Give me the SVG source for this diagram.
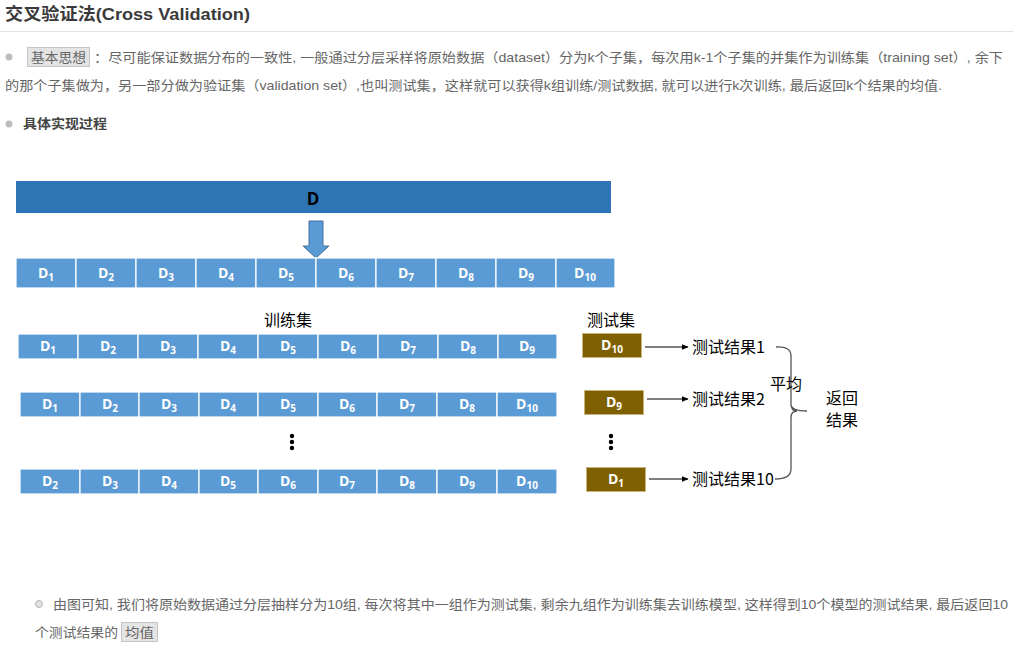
<svg xmlns="http://www.w3.org/2000/svg" width="1013" height="651" viewBox="0 0 1013 651">
<defs>
<style>
.cjk{font-family:"Liberation Sans","Noto Sans CJK SC",sans-serif}
.para{font-size:13px;fill:#666}
.cell{fill:#5b9bd5;stroke:#ffffff;stroke-width:1.2}
.brown{fill:#7f6000;stroke:#c8b47a;stroke-width:1}
.lbl{font-family:"Open Sans","Liberation Sans",sans-serif;font-weight:bold;font-size:14px;fill:#fff;text-anchor:middle}
.sub{font-size:10px}
.dk{font-family:"Noto Sans CJK SC",sans-serif;font-size:16px;fill:#000}
.conn{stroke:#000;stroke-width:1;fill:none}
.dot{fill:#000}
</style>
<marker id="ah" viewBox="0 0 10 10" refX="9" refY="5" markerWidth="7" markerHeight="7" orient="auto" markerUnits="userSpaceOnUse">
<path d="M0,1 L10,5 L0,9 z" fill="#000"/>
</marker>
</defs>
<rect width="1013" height="651" fill="#fff"/>

<!-- header -->
<g id="title">
<text x="5" y="20" class="cjk" font-size="17" font-weight="bold" fill="#3a3a3a" textLength="245" lengthAdjust="spacingAndGlyphs">交叉验证法(Cross Validation)</text>
<line x1="0" y1="31.5" x2="1013" y2="31.5" stroke="#e2e2e2" stroke-width="1"/>
</g>
<g id="para1">
<circle cx="9" cy="57" r="3.5" fill="#bdbdbd"/>
<rect x="27.5" y="47.5" width="62" height="19" fill="#e4e4e4" stroke="#c4c4c4"/>
<text x="31" y="62" class="cjk para" fill="#555" textLength="55" lengthAdjust="spacingAndGlyphs">基本思想</text>
<text x="94" y="62" class="cjk para" textLength="909" lengthAdjust="spacingAndGlyphs">：尽可能保证数据分布的一致性, 一般通过分层采样将原始数据（dataset）分为k个子集，每次用k-1个子集的并集作为训练集（training set）, 余下</text>
<text x="5" y="90" class="cjk para" textLength="937" lengthAdjust="spacingAndGlyphs">的那个子集做为，另一部分做为验证集（validation set）,也叫测试集，这样就可以获得k组训练/测试数据, 就可以进行k次训练, 最后返回k个结果的均值.</text>
</g>
<g id="para2">
<circle cx="9" cy="124" r="3.5" fill="#bdbdbd"/>
<text x="23" y="128" class="cjk" font-size="13" font-weight="bold" fill="#444" textLength="84" lengthAdjust="spacingAndGlyphs">具体实现过程</text>
</g>

<!-- diagram -->
<g id="dataset-D">
<rect x="16" y="181" width="595" height="32" fill="#2e75b6"/>
<text x="313" y="205" font-family="Open Sans,Liberation Sans,sans-serif" font-weight="bold" font-size="17" fill="#000" text-anchor="middle">D</text>
</g>

<g id="connectors">
<path d="M309,221 H323 V246 H329 L316,258 L303,246 H309 Z" fill="#5b9bd5" stroke="#41719c" stroke-width="1"/>
<line x1="645" y1="347" x2="688" y2="347" class="conn" marker-end="url(#ah)"/>
<line x1="647" y1="399" x2="688" y2="399" class="conn" marker-end="url(#ah)"/>
<line x1="649" y1="479" x2="688" y2="479" class="conn" marker-end="url(#ah)"/>
<path d="M776,347 Q791,346 791,356 V404 Q791,411 807,411 M791,404 Q791,411 797,411 M791,418 V469 Q791,479 775,479 M791,418 Q791,411 797,411" fill="none" stroke="#555" stroke-width="1.3"/>
</g>

<g id="folds-all">
<rect class="cell" x="16" y="258" width="60" height="30"/>
<rect class="cell" x="76" y="258" width="60" height="30"/>
<rect class="cell" x="136" y="258" width="60" height="30"/>
<rect class="cell" x="196" y="258" width="60" height="30"/>
<rect class="cell" x="256" y="258" width="60" height="30"/>
<rect class="cell" x="316" y="258" width="60" height="30"/>
<rect class="cell" x="376" y="258" width="60" height="30"/>
<rect class="cell" x="436" y="258" width="60" height="30"/>
<rect class="cell" x="496" y="258" width="60" height="30"/>
<rect class="cell" x="556" y="258" width="59" height="30"/>
<text class="lbl" x="46" y="278">D<tspan class="sub" dy="3">1</tspan></text>
<text class="lbl" x="106" y="278">D<tspan class="sub" dy="3">2</tspan></text>
<text class="lbl" x="166" y="278">D<tspan class="sub" dy="3">3</tspan></text>
<text class="lbl" x="226" y="278">D<tspan class="sub" dy="3">4</tspan></text>
<text class="lbl" x="286" y="278">D<tspan class="sub" dy="3">5</tspan></text>
<text class="lbl" x="346" y="278">D<tspan class="sub" dy="3">6</tspan></text>
<text class="lbl" x="406" y="278">D<tspan class="sub" dy="3">7</tspan></text>
<text class="lbl" x="466" y="278">D<tspan class="sub" dy="3">8</tspan></text>
<text class="lbl" x="526" y="278">D<tspan class="sub" dy="3">9</tspan></text>
<text class="lbl" x="585" y="278">D<tspan class="sub" dy="3">10</tspan></text>
</g>

<g id="label-train">
<text x="288" y="326" class="dk" text-anchor="middle">训练集</text>
</g>
<g id="label-test">
<text x="611" y="326" class="dk" text-anchor="middle">测试集</text>
</g>

<g id="train-row1">
<rect class="cell" x="18" y="334" width="60" height="25"/>
<rect class="cell" x="78" y="334" width="60" height="25"/>
<rect class="cell" x="138" y="334" width="60" height="25"/>
<rect class="cell" x="198" y="334" width="60" height="25"/>
<rect class="cell" x="258" y="334" width="60" height="25"/>
<rect class="cell" x="318" y="334" width="60" height="25"/>
<rect class="cell" x="378" y="334" width="60" height="25"/>
<rect class="cell" x="438" y="334" width="60" height="25"/>
<rect class="cell" x="498" y="334" width="59" height="25"/>
<text class="lbl" x="48" y="351">D<tspan class="sub" dy="3">1</tspan></text>
<text class="lbl" x="108" y="351">D<tspan class="sub" dy="3">2</tspan></text>
<text class="lbl" x="168" y="351">D<tspan class="sub" dy="3">3</tspan></text>
<text class="lbl" x="228" y="351">D<tspan class="sub" dy="3">4</tspan></text>
<text class="lbl" x="288" y="351">D<tspan class="sub" dy="3">5</tspan></text>
<text class="lbl" x="348" y="351">D<tspan class="sub" dy="3">6</tspan></text>
<text class="lbl" x="408" y="351">D<tspan class="sub" dy="3">7</tspan></text>
<text class="lbl" x="468" y="351">D<tspan class="sub" dy="3">8</tspan></text>
<text class="lbl" x="527" y="351">D<tspan class="sub" dy="3">9</tspan></text>
</g>
<g id="test-row1">
<rect class="brown" x="582.5" y="333.5" width="59" height="24"/>
<text class="lbl" x="612" y="350">D<tspan class="sub" dy="3">10</tspan></text>
</g>
<g id="result1">
<text x="692" y="353" class="dk">测试结果1</text>
</g>

<g id="train-row2">
<rect class="cell" x="20" y="392" width="60" height="25"/>
<rect class="cell" x="80" y="392" width="59" height="25"/>
<rect class="cell" x="139" y="392" width="60" height="25"/>
<rect class="cell" x="199" y="392" width="59" height="25"/>
<rect class="cell" x="258" y="392" width="60" height="25"/>
<rect class="cell" x="318" y="392" width="59" height="25"/>
<rect class="cell" x="377" y="392" width="60" height="25"/>
<rect class="cell" x="437" y="392" width="60" height="25"/>
<rect class="cell" x="497" y="392" width="60" height="25"/>
<text class="lbl" x="50" y="409">D<tspan class="sub" dy="3">1</tspan></text>
<text class="lbl" x="110" y="409">D<tspan class="sub" dy="3">2</tspan></text>
<text class="lbl" x="169" y="409">D<tspan class="sub" dy="3">3</tspan></text>
<text class="lbl" x="228" y="409">D<tspan class="sub" dy="3">4</tspan></text>
<text class="lbl" x="288" y="409">D<tspan class="sub" dy="3">5</tspan></text>
<text class="lbl" x="347" y="409">D<tspan class="sub" dy="3">6</tspan></text>
<text class="lbl" x="407" y="409">D<tspan class="sub" dy="3">7</tspan></text>
<text class="lbl" x="467" y="409">D<tspan class="sub" dy="3">8</tspan></text>
<text class="lbl" x="527" y="409">D<tspan class="sub" dy="3">10</tspan></text>
</g>
<g id="test-row2">
<rect class="brown" x="584.5" y="390.5" width="59" height="24"/>
<text class="lbl" x="614" y="407">D<tspan class="sub" dy="3">9</tspan></text>
</g>
<g id="result2">
<text x="692" y="405" class="dk">测试结果2</text>
</g>

<g id="ellipsis-train">
<circle class="dot" cx="292" cy="436" r="2.2"/>
<circle class="dot" cx="292" cy="442" r="2.2"/>
<circle class="dot" cx="292" cy="448" r="2.2"/>
</g>
<g id="ellipsis-test">
<circle class="dot" cx="611" cy="436" r="2.2"/>
<circle class="dot" cx="611" cy="442" r="2.2"/>
<circle class="dot" cx="611" cy="448" r="2.2"/>
</g>

<g id="train-row10">
<rect class="cell" x="20" y="469" width="60" height="25"/>
<rect class="cell" x="80" y="469" width="59" height="25"/>
<rect class="cell" x="139" y="469" width="60" height="25"/>
<rect class="cell" x="199" y="469" width="59" height="25"/>
<rect class="cell" x="258" y="469" width="60" height="25"/>
<rect class="cell" x="318" y="469" width="59" height="25"/>
<rect class="cell" x="377" y="469" width="60" height="25"/>
<rect class="cell" x="437" y="469" width="60" height="25"/>
<rect class="cell" x="497" y="469" width="60" height="25"/>
<text class="lbl" x="50" y="486">D<tspan class="sub" dy="3">2</tspan></text>
<text class="lbl" x="110" y="486">D<tspan class="sub" dy="3">3</tspan></text>
<text class="lbl" x="169" y="486">D<tspan class="sub" dy="3">4</tspan></text>
<text class="lbl" x="228" y="486">D<tspan class="sub" dy="3">5</tspan></text>
<text class="lbl" x="288" y="486">D<tspan class="sub" dy="3">6</tspan></text>
<text class="lbl" x="347" y="486">D<tspan class="sub" dy="3">7</tspan></text>
<text class="lbl" x="407" y="486">D<tspan class="sub" dy="3">8</tspan></text>
<text class="lbl" x="467" y="486">D<tspan class="sub" dy="3">9</tspan></text>
<text class="lbl" x="527" y="486">D<tspan class="sub" dy="3">10</tspan></text>
</g>
<g id="test-row10">
<rect class="brown" x="586.5" y="467.5" width="59" height="24"/>
<text class="lbl" x="616" y="484">D<tspan class="sub" dy="3">1</tspan></text>
</g>
<g id="result10">
<text x="692" y="485" class="dk">测试结果10</text>
</g>

<g id="label-average">
<text x="770" y="390" class="dk">平均</text>
</g>
<g id="label-return">
<text x="826" y="404" class="dk" font-size="15">返回</text>
<text x="826" y="426" class="dk" font-size="15">结果</text>
</g>

<!-- footer -->
<g id="para3">
<circle cx="39" cy="604" r="3.5" fill="#e2e2e2" stroke="#b5b5b5" stroke-width="1"/>
<text x="53" y="609" class="cjk para" textLength="955" lengthAdjust="spacingAndGlyphs">由图可知, 我们将原始数据通过分层抽样分为10组, 每次将其中一组作为测试集, 剩余九组作为训练集去训练模型, 这样得到10个模型的测试结果, 最后返回10</text>
<text x="35" y="637" class="cjk para" textLength="83" lengthAdjust="spacingAndGlyphs">个测试结果的</text>
<rect x="121.5" y="622.5" width="36" height="19" fill="#e4e4e4" stroke="#c4c4c4"/>
<text x="125" y="637" class="cjk para" fill="#555" textLength="29" lengthAdjust="spacingAndGlyphs">均值</text>
</g>
</svg>
